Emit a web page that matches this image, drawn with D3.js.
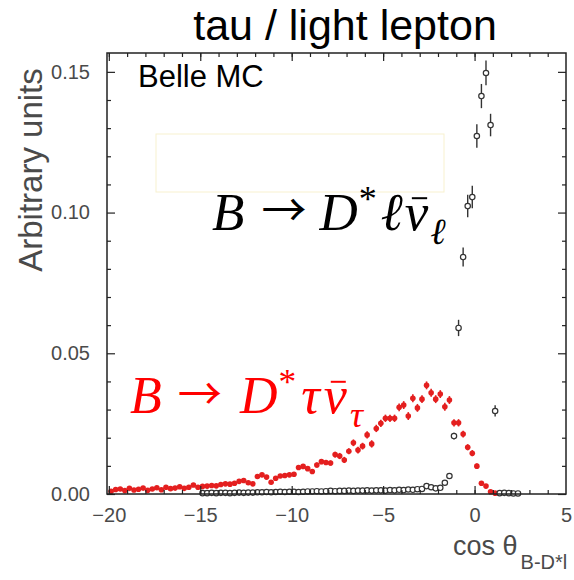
<!DOCTYPE html>
<html><head><meta charset="utf-8">
<script src="https://cdn.jsdelivr.net/npm/d3@7"></script>
<style>body{margin:0;background:#fff}</style>
</head><body>
<svg id="c" width="574" height="580"></svg>
<script>
// ---------- data ----------
const binWidth = 0.25;
const tauFirstBin = -19.875;
const lepFirstBin = -14.875;
// B -> D* tau nu (red)
const tauValues = [
  0.0010,0.0016,0.0018,0.0012,0.0020,0.0014,0.0017,0.0021,0.0013,0.0018,
  0.0022,0.0015,0.0024,0.0019,0.0021,0.0026,0.0020,0.0024,0.0032,0.0024,
  0.0027,0.0028,0.0030,0.0029,0.0034,0.0036,0.0035,0.0038,0.0045,0.0048,
  0.0040,0.0036,0.0062,0.0068,0.0060,0.0042,0.0056,0.0064,0.0066,0.0068,
  0.0070,0.0094,0.0098,0.0090,0.0080,0.0103,0.0115,0.0112,0.0110,0.0140,
  0.0135,0.0121,0.0152,0.0182,0.0156,0.0170,0.0210,0.0178,0.0233,0.0251,
  0.0269,0.0269,0.0269,0.0308,0.0316,0.0277,0.0340,0.0306,0.0337,0.0386,
  0.0360,0.0337,0.0355,0.0310,0.0334,0.0253,0.0253,0.0213,0.0166,0.0145,
  0.0099,0.0038,0.0028,0.0008,0.0003
];
const tauErrors = [
  0.0004,0.0004,0.0004,0.0004,0.0004,0.0004,0.0004,0.0004,0.0004,0.0004,
  0.0004,0.0004,0.0004,0.0004,0.0004,0.0004,0.0004,0.0004,0.0004,0.0004,
  0.0005,0.0005,0.0005,0.0005,0.0005,0.0005,0.0005,0.0005,0.0005,0.0005,
  0.0007,0.0007,0.0007,0.0007,0.0007,0.0007,0.0007,0.0007,0.0007,0.0007,
  0.0008,0.0008,0.0008,0.0008,0.0008,0.0009,0.0009,0.0009,0.0009,0.0010,
  0.0011,0.0011,0.0011,0.0012,0.0012,0.0012,0.0013,0.0013,0.0013,0.0013,
  0.0013,0.0013,0.0013,0.0014,0.0014,0.0014,0.0014,0.0014,0.0014,0.0014,
  0.0014,0.0014,0.0014,0.0014,0.0014,0.0013,0.0013,0.0012,0.0011,0.0011,
  0.0009,0.0006,0.0005,0.0003,0.0002
];
// B -> D* l nu (black)
const lepValues = [
  0.0003,0.0003,0.0004,0.0003,0.0004,0.0004,0.0003,0.0004,0.0005,0.0004,
  0.0005,0.0005,0.0006,0.0006,0.0007,0.0006,0.0007,0.0008,0.0007,0.0008,
  0.0008,0.0007,0.0008,0.0009,0.0009,0.0010,0.0009,0.0010,0.0011,0.0010,
  0.0011,0.0011,0.0012,0.0011,0.0012,0.0012,0.0013,0.0012,0.0013,0.0013,
  0.0012,0.0014,0.0013,0.0015,0.0014,0.0016,0.0015,0.0017,0.0018,0.0028,
  0.0024,0.0020,0.0022,0.0040,0.0064,0.0206,0.0590,0.0842,0.1023,0.1055,
  0.1272,0.1414,0.1496,0.1311,0.0295,0.0003,0.0004,0.0003,0.0002,0.0002
];
const lepErrors = [
  0.0002,0.0002,0.0002,0.0002,0.0002,0.0002,0.0002,0.0002,0.0002,0.0002,
  0.0002,0.0002,0.0002,0.0002,0.0002,0.0002,0.0002,0.0002,0.0002,0.0002,
  0.0002,0.0002,0.0002,0.0002,0.0002,0.0002,0.0002,0.0002,0.0002,0.0002,
  0.0002,0.0002,0.0002,0.0002,0.0002,0.0002,0.0002,0.0002,0.0002,0.0002,
  0.0002,0.0002,0.0002,0.0002,0.0002,0.0002,0.0002,0.0002,0.0002,0.0003,
  0.0003,0.0003,0.0003,0.0004,0.0006,0.0012,0.0029,0.0034,0.0040,0.0040,
  0.0042,0.0043,0.0044,0.0040,0.0020,0.0002,0.0002,0.0002,0.0002,0.0002
];
const xMajorTicks = [-20, -15, -10, -5, 0, 5];
const xTickLabels = ["\u221220", "\u221215", "\u221210", "\u22125", "0", "5"];
const yMajorTicks = [0, 0.05, 0.10, 0.15];
const yTickLabels = ["0.00", "0.05", "0.10", "0.15"];
const xMinorTicks = [-20,-19,-18,-17,-16,-15,-14,-13,-12,-11,-10,-9,-8,-7,-6,-5,-4,-3,-2,-1,0,1,2,3,4];
const yMinorTicks = [0.01,0.02,0.03,0.04,0.06,0.07,0.08,0.09,0.11,0.12,0.13,0.14];

const tauData = tauValues.map((v, i) => ({x: tauFirstBin + binWidth * i, y: v, e: tauErrors[i]}));
const lepData = lepValues.map((v, i) => ({x: lepFirstBin + binWidth * i, y: v, e: lepErrors[i]}));

// ---------- drawing ----------
const svg = d3.select("#c");
const L = 107, R = 566, T = 53, B = 494;
const x = d3.scaleLinear().domain([-20.1, 5]).range([L, R]);
const y = d3.scaleLinear().domain([0, 0.1567]).range([B, T]);
const sans = "'Liberation Sans', Arial, sans-serif";
const gray = "#4a4a4a";

// faint leftover box
svg.append("rect").attr("x", 156).attr("y", 134).attr("width", 288).attr("height", 58)
  .attr("fill", "none").attr("stroke", "#f8f1cf").attr("stroke-width", 1);

// title
svg.append("text").attr("x", 345).attr("y", 40).attr("text-anchor", "middle")
  .attr("font-family", sans).attr("font-size", 43).attr("fill", "#000")
  .text("tau / light lepton");

// data: tau (red)
const red = "#e41f1f";
const gT = svg.append("g");
gT.selectAll("line").data(tauData).join("line")
  .attr("x1", d => x(d.x)).attr("x2", d => x(d.x))
  .attr("y1", d => y(d.y - d.e)).attr("y2", d => y(d.y + d.e))
  .attr("stroke", red).attr("stroke-width", 1.6);
gT.selectAll("circle").data(tauData).join("circle")
  .attr("cx", d => x(d.x)).attr("cy", d => y(d.y)).attr("r", 2.8)
  .attr("fill", red);

// data: light lepton (black open)
const gL = svg.append("g");
gL.selectAll("line").data(lepData).join("line")
  .attr("x1", d => x(d.x)).attr("x2", d => x(d.x))
  .attr("y1", d => y(d.y - d.e)).attr("y2", d => y(d.y + d.e))
  .attr("stroke", "#333").attr("stroke-width", 1.4);
gL.selectAll("circle").data(lepData).join("circle")
  .attr("cx", d => x(d.x)).attr("cy", d => y(d.y)).attr("r", 2.7)
  .attr("fill", "#fff").attr("stroke", "#333").attr("stroke-width", 1.2);

// axes (ticks pointing inward)
function axisG(axis, tx, ty) {
  const g = svg.append("g").attr("transform", `translate(${tx},${ty})`).call(axis);
  g.select(".domain").remove();
  g.selectAll(".tick line").attr("stroke", "#222").attr("stroke-width", 1.2);
  return g;
}
axisG(d3.axisBottom(x).tickValues(xMinorTicks).tickSize(-4).tickFormat(""), 0, B);
axisG(d3.axisTop(x).tickValues(xMinorTicks).tickSize(-4).tickFormat(""), 0, T);
axisG(d3.axisLeft(y).tickValues(yMinorTicks).tickSize(-4).tickFormat(""), L, 0);
axisG(d3.axisRight(y).tickValues(yMinorTicks).tickSize(-4).tickFormat(""), R, 0);
const xb = axisG(d3.axisBottom(x).tickValues(xMajorTicks).tickSize(-8).tickPadding(14)
  .tickFormat((d, i) => xTickLabels[i]), 0, B);
xb.selectAll(".tick").filter(d => d >= 5).select("line").remove();
xb.selectAll("text").attr("font-family", sans).attr("font-size", 20).attr("fill", gray);
axisG(d3.axisTop(x).tickValues(xMajorTicks.filter(v => v < 5)).tickSize(-8).tickFormat(""), 0, T);
const yl = axisG(d3.axisLeft(y).tickValues(yMajorTicks).tickSize(-8).tickPadding(17)
  .tickFormat((d, i) => yTickLabels[i]), L, 0);
yl.selectAll("text").attr("font-family", sans).attr("font-size", 20).attr("fill", gray);
axisG(d3.axisRight(y).tickValues(yMajorTicks).tickSize(-8).tickFormat(""), R, 0);

// frame
svg.append("rect").attr("x", L).attr("y", T).attr("width", R - L).attr("height", B - T)
  .attr("fill", "none").attr("stroke", "#222").attr("stroke-width", 1.5);

// Belle MC
svg.append("text").attr("x", 138).attr("y", 87).attr("font-family", sans)
  .attr("font-size", 31).attr("fill", "#000").text("Belle MC");

// y label
svg.append("text").attr("transform", "translate(42,170) rotate(-90)")
  .attr("text-anchor", "middle").attr("font-family", sans).attr("font-size", 33)
  .attr("fill", gray).text("Arbitrary units");

// x label
const xl = svg.append("text").attr("x", 453).attr("y", 555).attr("font-family", sans)
  .attr("font-size", 27).attr("fill", gray);
xl.append("tspan").text("cos \u03b8");
xl.append("tspan").attr("font-size", 20).attr("dx", 3).attr("dy", 14).text("B-D*l");

// math labels
const serif = "'Liberation Serif', 'Times New Roman', serif";
function mathLabel(x0, y0, color, lep, size, gaps) {
  const t = svg.append("text").attr("x", x0).attr("y", y0).attr("font-family", serif)
    .attr("font-size", size).attr("fill", color);
  t.append("tspan").attr("font-style", "italic").text("B");
  t.append("tspan").attr("font-family", "'Noto Sans CJK JP', 'DejaVu Sans', sans-serif")
    .attr("font-size", size * 0.85).attr("dx", gaps[0]).attr("dy", -size * 0.05).text("\u2192");
  t.append("tspan").attr("font-style", "italic").attr("dx", gaps[1]).attr("dy", size * 0.05).text("D");
  t.append("tspan").attr("font-size", size * 0.68).attr("dx", 1).attr("dy", -size * 0.36).text("*");
  t.append("tspan").attr("font-style", "italic").attr("dx", gaps[2]).attr("dy", size * 0.36).text(lep);
  const nu = t.append("tspan").attr("font-style", "italic").attr("dx", gaps[3]).text("\u03bd");
  t.append("tspan").attr("font-style", "italic").attr("font-size", size * 0.7)
    .attr("dx", gaps[4]).attr("dy", size * 0.27).text(lep);
  const ext = nu.node().getExtentOfChar(0);
  svg.append("line")
    .attr("x1", ext.x + ext.width * 0.3).attr("x2", ext.x + ext.width * 0.95)
    .attr("y1", y0 - size * 0.6).attr("y2", y0 - size * 0.6)
    .attr("stroke", color).attr("stroke-width", 2);
  return t;
}
mathLabel(212, 230, "#000", "\u2113", 53, [17, 13, 4, 2, 2]);
mathLabel(130, 413, "#ff0000", "\u03c4", 52, [16, 18, 5, 4, 3]);
</script>
</body></html>
